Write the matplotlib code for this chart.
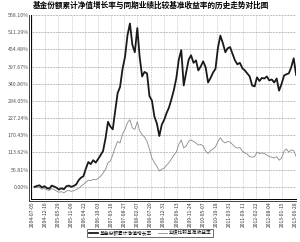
import matplotlib
matplotlib.use("Agg")
import matplotlib.pyplot as plt
import matplotlib.lines as mlines
import pandas as pd

plt.rcParams['font.family'] = ['Noto Sans CJK SC', 'DejaVu Sans']

# monthly points, 2004-07 .. 2013-06
months = pd.date_range("2004-07-05", periods=108, freq="MS") + pd.Timedelta(days=4)

fund = [0, 3, 5, -2, 2, -4, -6, 4, 1, -3, -9, -5, -8, 2, 4, 0, 3, 8,
        22, 30, 35, 60, 82, 75, 88, 80, 92, 105, 118, 160,
        215, 200, 190, 250, 310, 330, 390, 430, 500, 540, 470, 445,
        525, 430, 365, 380, 375, 300, 285, 232, 210, 168, 205, 222,
        245, 262, 290, 320, 360, 420, 452, 335, 378, 420, 435, 410,
        418, 385, 398, 415, 395, 345, 360, 378, 390, 460, 500, 475,
        445, 458, 462, 440, 418, 405, 410, 392, 385, 375, 365, 335,
        332, 362, 350, 360, 358, 365, 352, 355, 345, 358, 318, 340,
        368, 372, 375, 395, 425, 370]

bench = [0, -3, -2, -8, -5, -10, -12, -6, -9, -14, -18, -16, -20, -14, -12, -15, -13, -9,
         -5, 2, 8, 15, 22, 20, 25, 23, 28, 35, 45, 58,
         80, 85, 105, 130, 150, 145, 175, 190, 212, 222, 195, 190,
         215, 185, 172, 165, 150, 125, 95, 80, 68, 52, 58, 62,
         72, 80, 92, 105, 115, 140, 155, 128, 135, 150, 155, 150,
         145, 138, 140, 135, 118, 110, 120, 125, 132, 150, 162, 150,
         145, 150, 148, 140, 132, 128, 130, 118, 112, 108, 100, 98,
         100, 115, 110, 112, 110, 105, 100, 98, 95, 100, 88, 95,
         118, 125, 115, 122, 120, 100]

tick_labels = ["2004-07-05", "2004-12-16", "2005-05-29", "2005-11-09", "2006-04-22",
               "2006-10-03", "2007-03-16", "2007-08-27", "2008-02-07", "2008-07-20",
               "2008-12-31", "2009-06-13", "2009-11-24", "2010-05-07", "2010-10-18",
               "2011-03-31", "2011-09-11", "2012-02-22", "2012-08-04", "2013-01-15",
               "2013-06-28"]
y_ticks = [0.00, 56.81, 113.62, 170.43, 227.24, 284.05, 340.86, 397.67, 454.48, 511.29, 568.10]

fig = plt.figure(figsize=(3.0, 2.42), dpi=100)
ax = fig.add_axes([0.103, 0.178, 0.884, 0.760])

ax.plot(months, bench, color="#8a8a8a", linewidth=0.6, label="业绩比较基准收益率")
ax.plot(months, fund, color="#1a1a1a", linewidth=1.3, label="基金份额累计净值增长率")

tick_dates = pd.to_datetime(tick_labels)
ax.set_xticks(tick_dates)
ax.set_xticklabels(tick_labels, rotation=90, fontsize=3.6, color="#333333")
ax.set_yticks(y_ticks)
ax.set_yticklabels([f"{v:.2f}%" for v in y_ticks], fontsize=3.8, color="#555555")
ax.set_xlim(pd.Timestamp("2004-06-20"), pd.Timestamp("2013-07-05"))
ax.set_ylim(-40, 568.1)
ax.tick_params(length=0, pad=1.5)

ax.grid(True, axis="y", linestyle=(0, (1, 1.2)), color="#777777", linewidth=0.5)
ax.grid(True, axis="x", linestyle=(0, (1, 1.5)), color="#aaaaaa", linewidth=0.5)
for s in ["top", "right"]:
    ax.spines[s].set_visible(False)
ax.spines["left"].set_linewidth(0.7)
ax.spines["bottom"].set_linewidth(0.7)

# double axis lines
fig.add_artist(mlines.Line2D([0.097, 0.097], [0.17, 0.938], color="#222222", linewidth=0.6))
fig.add_artist(mlines.Line2D([0.097, 0.987], [0.171, 0.171], color="#222222", linewidth=0.6))

fig.text(0.505, 0.978, "基金份额累计净值增长率与同期业绩比较基准收益率的历史走势对比图",
         ha="center", va="center", fontsize=5.5, fontweight="bold")

h, l = ax.get_legend_handles_labels()
fig.legend(h[::-1], l[::-1], loc="center", bbox_to_anchor=(0.5, 0.037), ncol=2,
           fontsize=3.4, frameon=True, fancybox=False, edgecolor="#333333",
           handlelength=2.0, handletextpad=0.3, columnspacing=1.2,
           borderpad=0.3, framealpha=1).get_frame().set_linewidth(0.5)

fig.savefig("out.png", dpi=100)
